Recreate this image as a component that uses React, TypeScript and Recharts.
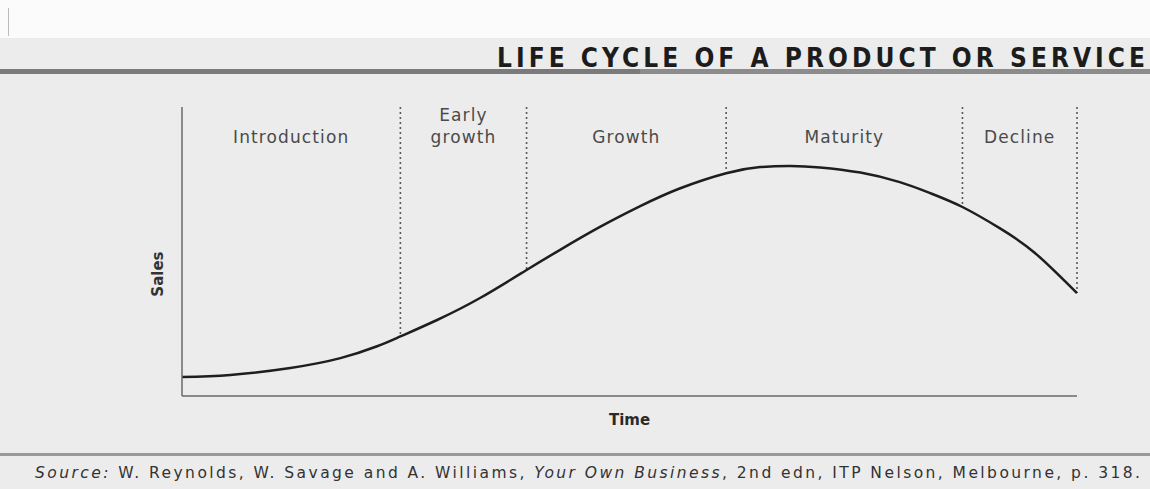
import React from 'react';
import { ComposedChart, Line, XAxis, YAxis, ReferenceLine, ReferenceArea } from 'recharts';

// Time (0-100) and relative sales (0-100)
const timeValues = [0, 5.4, 12.1, 17.7, 21.8, 24.4, 28.5, 33.3, 38.5, 42.2, 46.7, 51.2, 55.6, 60.8, 64.6, 68.0, 71.3, 75.8, 80.2, 83.6, 87.2, 91.4, 95.3, 100];
const salesValues = [6.6, 7.3, 9.7, 13.1, 17.2, 20.6, 26.3, 33.9, 43.6, 50.5, 58.5, 65.7, 71.8, 77.1, 79.2, 79.6, 79.1, 77.3, 74.0, 70.2, 65.4, 58.0, 49.5, 35.6];

const phaseNames = ['Introduction', 'Early growth', 'Growth', 'Maturity', 'Decline'];
const phaseBounds = [0, 24.4, 38.5, 60.8, 87.2, 100];

const titleText = 'LIFE CYCLE OF A PRODUCT OR SERVICE';
const xLabel = 'Time';
const yLabel = 'Sales';

const data = timeValues.map((t, i) => ({ t, sales: salesValues[i] }));
const salesAt = (t: number) => {
  const i = timeValues.indexOf(t);
  return i >= 0 ? salesValues[i] : 0;
};

const LABEL_FONT = '"DejaVu Sans", sans-serif';
const NARROW_FONT = '"Liberation Sans Narrow", "DejaVu Sans Condensed", sans-serif';

const makePhaseLabel = (name: string) => (props: any) => {
  const vb = props.viewBox || {};
  const cx = vb.x + vb.width / 2;
  const words = name.split(' ');
  const lineH = 22;
  const baseY = vb.y + 36 - (words.length - 1) * lineH;
  return (
    <text x={cx} y={baseY} textAnchor="middle" fill="#4a4a4a" fontFamily={LABEL_FONT} fontSize={17} letterSpacing={1.1}>
      {words.map((l, i) => (
        <tspan key={i} x={cx} y={baseY + i * lineH}>{l}</tspan>
      ))}
    </text>
  );
};

export default function App() {
  return (
    <div style={{ position: 'absolute', left: 0, top: 0, width: 1150, height: 489, background: '#ececec', overflow: 'hidden' }}>
      <svg width={1150} height={489} style={{ position: 'absolute', left: 0, top: 0 }}>
        <rect x={0} y={0} width={1150} height={38} fill="#fbfbfb" />
        <line x1={8.5} y1={8} x2={8.5} y2={36} stroke="#bbb" strokeWidth={1} />
        <rect x={0} y={69} width={1150} height={5} fill="#8c8c8c" />
        <rect x={0} y={69} width={640} height={5} fill="#7a7a7a" />
        <text x={497} y={67} textLength={648} lengthAdjust="spacing" fontFamily={NARROW_FONT} fontWeight="bold" fontSize={26} fill="#1c1c1c">
          {titleText}
        </text>
        <rect x={0} y={453} width={1150} height={3} fill="#9a9a9a" />
        <text x={35} y={478} textLength={1105} lengthAdjust="spacing" fontFamily={LABEL_FONT} fontSize={15.5} fill="#333">
          <tspan fontStyle="italic">Source:</tspan>
          <tspan> W. Reynolds, W. Savage and A. Williams, </tspan>
          <tspan fontStyle="italic">Your Own Business</tspan>
          <tspan>, 2nd edn, ITP Nelson, Melbourne, p. 318.</tspan>
        </text>
      </svg>
      <div style={{ position: 'absolute', left: 0, top: 0 }}>
        <ComposedChart width={1150} height={489} data={data} margin={{ top: 107, right: 73, bottom: 63, left: 152 }}>
          <XAxis
            type="number"
            dataKey="t"
            domain={[0, 100]}
            tick={false}
            tickLine={false}
            height={30}
            axisLine={{ stroke: '#6a6a6a', strokeWidth: 1.5 }}
            label={{ value: xLabel, position: 'insideTop', offset: 18, fill: '#2a2a2a', fontSize: 15, fontWeight: 'bold', fontFamily: LABEL_FONT }}
          />
          <YAxis
            type="number"
            domain={[0, 100]}
            tick={false}
            tickLine={false}
            width={30}
            axisLine={{ stroke: '#6a6a6a', strokeWidth: 1.5 }}
            label={{ value: yLabel, angle: -90, position: 'insideRight', offset: 24, fill: '#333', fontSize: 15, fontWeight: 600, fontFamily: LABEL_FONT }}
          />
          {phaseNames.map((name, i) => (
            <ReferenceArea
              key={name}
              x1={phaseBounds[i]}
              x2={phaseBounds[i + 1]}
              y1={80}
              y2={100}
              fill="none"
              fillOpacity={0}
              stroke="none"
              label={makePhaseLabel(name)}
            />
          ))}
          {phaseBounds.slice(1).map((b) => (
            <ReferenceLine
              key={b}
              segment={[{ x: b, y: 100 }, { x: b, y: salesAt(b) }]}
              stroke="#5a5a5a"
              strokeWidth={1.6}
              strokeDasharray="2 3"
            />
          ))}
          <Line
            type="natural"
            dataKey="sales"
            stroke="#1e1e1e"
            strokeWidth={2.5}
            dot={false}
            isAnimationActive={false}
          />
        </ComposedChart>
      </div>
    </div>
  );
}
